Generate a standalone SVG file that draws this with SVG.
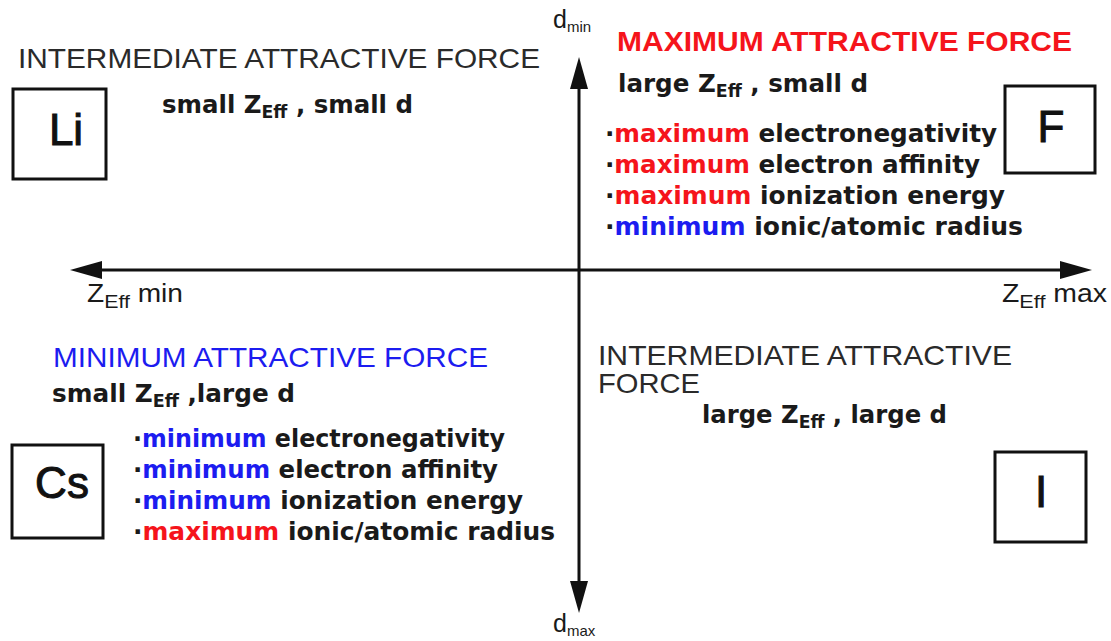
<svg xmlns="http://www.w3.org/2000/svg" width="1111" height="641" viewBox="0 0 1111 641">
<defs>
<style>
.cap{font-family:"Liberation Sans",Arial,sans-serif;font-size:28px;fill:#2a2a2a}
.b{font-family:"DejaVu Sans",Verdana,sans-serif;font-weight:bold;font-size:24px;fill:#1a1a1a}
.sub{font-size:17px}
.ax{font-family:"Liberation Sans",Arial,sans-serif;font-size:25px;fill:#1a1a1a}
.axs{font-size:19px}
.box{fill:#fff;stroke:#111;stroke-width:3}
.sym{font-family:"Liberation Sans",Arial,sans-serif;font-size:44px;fill:#111;stroke:#111;stroke-width:1;text-anchor:middle}
.red{fill:#f5141b}
.blue{fill:#1c1cf0}
.axis{stroke:#111;stroke-width:3;fill:none;marker-start:url(#ah);marker-end:url(#ah)}
</style>
<marker id="ah" viewBox="0 0 32 18" refX="2" refY="9" markerWidth="32" markerHeight="18" markerUnits="userSpaceOnUse" orient="auto-start-reverse">
<path d="M0,0 L32,9 L0,18 Z" fill="#111"/>
</marker>
</defs>
<rect width="1111" height="641" fill="#fff"/>

<g id="connectors">
<line class="axis" x1="100" y1="270" x2="1062" y2="270"/>
<line class="axis" x1="579" y1="87" x2="579" y2="583"/>
</g>

<g id="axis-labels">
<text class="ax" x="553" y="28" font-size="22">d<tspan font-size="15" dy="4">min</tspan></text>
<text class="ax" x="553" y="632" font-size="22">d<tspan font-size="15" dy="4">max</tspan></text>
<text class="ax" x="87" y="302" textLength="96" lengthAdjust="spacingAndGlyphs">Z<tspan class="axs" dy="6">Eff</tspan><tspan dy="-6"> min</tspan></text>
<text class="ax" x="1002" y="302" textLength="105" lengthAdjust="spacingAndGlyphs">Z<tspan class="axs" dy="6">Eff</tspan><tspan dy="-6"> max</tspan></text>
</g>

<g id="node-li">
<text class="cap" x="18" y="68" textLength="522" lengthAdjust="spacingAndGlyphs">INTERMEDIATE ATTRACTIVE FORCE</text>
<rect class="box" x="13" y="89" width="93" height="90"/>
<text class="sym" x="66" y="145">Li</text>
<text class="b" x="162" y="113" textLength="251" lengthAdjust="spacingAndGlyphs">small Z<tspan class="sub" dy="5">Eff</tspan><tspan dy="-5"> , small d</tspan></text>
</g>

<g id="node-f">
<text class="cap red" x="617" y="51" font-weight="bold" font-size="27" textLength="455" lengthAdjust="spacingAndGlyphs">MAXIMUM ATTRACTIVE FORCE</text>
<text class="b" x="618" y="92" textLength="250" lengthAdjust="spacingAndGlyphs">large Z<tspan class="sub" dy="5">Eff</tspan><tspan dy="-5"> , small d</tspan></text>
<rect class="box" x="1005" y="86" width="90" height="87"/>
<text class="sym" x="1051" y="142">F</text>
<text class="b" x="605" y="142" textLength="392" lengthAdjust="spacingAndGlyphs">·<tspan class="red">maximum</tspan> electronegativity</text>
<text class="b" x="605" y="173" textLength="375" lengthAdjust="spacingAndGlyphs">·<tspan class="red">maximum</tspan> electron affinity</text>
<text class="b" x="605" y="204" textLength="400" lengthAdjust="spacingAndGlyphs">·<tspan class="red">maximum</tspan> ionization energy</text>
<text class="b" x="605" y="235" textLength="418" lengthAdjust="spacingAndGlyphs">·<tspan class="blue">minimum</tspan> ionic/atomic radius</text>
</g>

<g id="node-cs">
<text class="cap blue" x="53" y="367" textLength="435" lengthAdjust="spacingAndGlyphs">MINIMUM ATTRACTIVE FORCE</text>
<text class="b" x="52" y="402" textLength="243" lengthAdjust="spacingAndGlyphs">small Z<tspan class="sub" dy="5">Eff</tspan><tspan dy="-5"> ,large d</tspan></text>
<rect class="box" x="12" y="445" width="91" height="93"/>
<text class="sym" x="62" y="498">Cs</text>
<text class="b" x="133" y="447" textLength="372" lengthAdjust="spacingAndGlyphs">·<tspan class="blue">minimum</tspan> electronegativity</text>
<text class="b" x="133" y="478" textLength="365" lengthAdjust="spacingAndGlyphs">·<tspan class="blue">minimum</tspan> electron affinity</text>
<text class="b" x="133" y="509" textLength="390" lengthAdjust="spacingAndGlyphs">·<tspan class="blue">minimum</tspan> ionization energy</text>
<text class="b" x="133" y="540" textLength="422" lengthAdjust="spacingAndGlyphs">·<tspan class="red">maximum</tspan> ionic/atomic radius</text>
</g>

<g id="node-i">
<text class="cap" x="598" y="365" textLength="414" lengthAdjust="spacingAndGlyphs">INTERMEDIATE ATTRACTIVE</text>
<text class="cap" x="598" y="393" textLength="102" lengthAdjust="spacingAndGlyphs">FORCE</text>
<text class="b" x="702" y="423" textLength="245" lengthAdjust="spacingAndGlyphs">large Z<tspan class="sub" dy="5">Eff</tspan><tspan dy="-5"> , large d</tspan></text>
<rect class="box" x="995" y="452" width="91" height="90"/>
<text class="sym" x="1041" y="507">I</text>
</g>
</svg>
